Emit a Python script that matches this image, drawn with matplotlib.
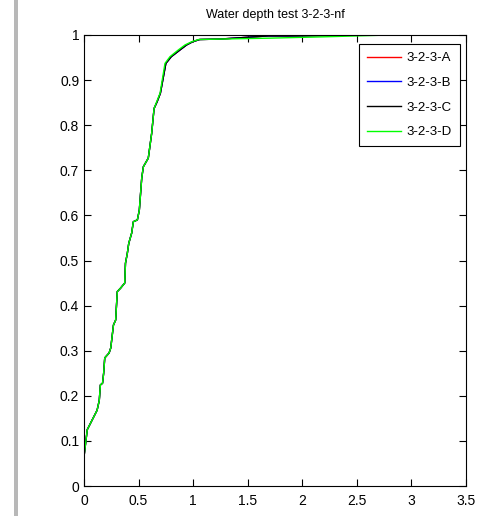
import matplotlib
matplotlib.use("Agg")
import matplotlib.pyplot as plt
from matplotlib.patches import Rectangle

# cumulative water depth curves
x_d = [0, 0, 0.03, 0.12, 0.14, 0.15, 0.17, 0.18, 0.19, 0.23, 0.245, 0.27, 0.29,
       0.305, 0.336, 0.373, 0.38, 0.397, 0.41, 0.437, 0.452, 0.489, 0.507, 0.529,
       0.544, 0.589, 0.62, 0.642, 0.666, 0.697, 0.742, 0.788, 0.865, 0.926, 0.987,
       1.05, 1.25, 1.7, 2.2, 2.8]
y_d = [0, 0.065, 0.125, 0.168, 0.19, 0.224, 0.228, 0.25, 0.284, 0.295, 0.306, 0.357,
       0.368, 0.431, 0.439, 0.45, 0.494, 0.516, 0.538, 0.561, 0.586, 0.59, 0.612,
       0.683, 0.708, 0.727, 0.782, 0.837, 0.852, 0.871, 0.937, 0.952, 0.967, 0.978,
       0.985, 0.990, 0.991, 0.993, 0.996, 1.0]

x_c = [0, 0, 0.03, 0.12, 0.14, 0.15, 0.17, 0.18, 0.19, 0.23, 0.245, 0.27, 0.29,
       0.305, 0.336, 0.373, 0.38, 0.397, 0.41, 0.437, 0.452, 0.489, 0.507, 0.529,
       0.544, 0.589, 0.62, 0.642, 0.67, 0.70, 0.75, 0.80, 0.88, 0.94, 0.995,
       1.06, 1.25, 1.69, 1.96, 2.19, 2.46]
y_c = [0, 0.065, 0.125, 0.168, 0.19, 0.224, 0.228, 0.25, 0.284, 0.295, 0.306, 0.357,
       0.368, 0.431, 0.439, 0.45, 0.494, 0.516, 0.538, 0.561, 0.586, 0.59, 0.612,
       0.683, 0.708, 0.727, 0.782, 0.837, 0.852, 0.871, 0.937, 0.952, 0.967, 0.978,
       0.985, 0.990, 0.991, 0.998, 0.998, 0.999, 1.0]

x_a = x_c
y_a = y_c
x_b = x_c
y_b = y_c

labels = ["3-2-3-A", "3-2-3-B", "3-2-3-C", "3-2-3-D"]
colors = ["#ff0000", "#0000ff", "#000000", "#00ff00"]
x_ticks = [0, 0.5, 1, 1.5, 2, 2.5, 3, 3.5]
y_ticks = [0, 0.1, 0.2, 0.3, 0.4, 0.5, 0.6, 0.7, 0.8, 0.9, 1]

plt.rcParams["font.family"] = ["Liberation Sans", "DejaVu Sans"]
plt.rcParams["font.size"] = 10

fig = plt.figure(figsize=(4.88, 5.16), dpi=100)
fig.patches.append(Rectangle((14 / 488, 0), 4 / 488, 1, transform=fig.transFigure,
                             facecolor="#b8b8b8", edgecolor="none"))
ax = fig.add_axes([84 / 488, 30 / 516, 382 / 488, 451 / 516])

for xs, ys, lab, col in zip([x_a, x_b, x_c, x_d], [y_a, y_b, y_c, y_d], labels, colors):
    ax.plot(xs, ys, color=col, lw=1.0, label=lab)

ax.set_xlim(0, 3.5)
ax.set_ylim(0, 1)
ax.set_xticks(x_ticks)
ax.set_xticklabels(["0", "0.5", "1", "1.5", "2", "2.5", "3", "3.5"])
ax.set_yticks(y_ticks)
ax.set_yticklabels(["0", "0.1", "0.2", "0.3", "0.4", "0.5", "0.6", "0.7", "0.8", "0.9", "1"])
ax.tick_params(direction="in", length=5, width=0.8, top=True, right=True, labelsize=10)
ax.tick_params(axis="x", pad=6)
for sp in ax.spines.values():
    sp.set_linewidth(0.8)
ax.set_title("Water depth test 3-2-3-nf", fontsize=9, pad=12)

leg = ax.legend(loc="upper right", bbox_to_anchor=(0.984, 0.98), borderaxespad=0,
                fancybox=False, framealpha=1, edgecolor="black", handlelength=2.6,
                labelspacing=0.95, borderpad=0.6, handletextpad=0.4, fontsize=9.5)
leg.get_frame().set_linewidth(0.8)

fig.savefig("out.png", dpi=100)
